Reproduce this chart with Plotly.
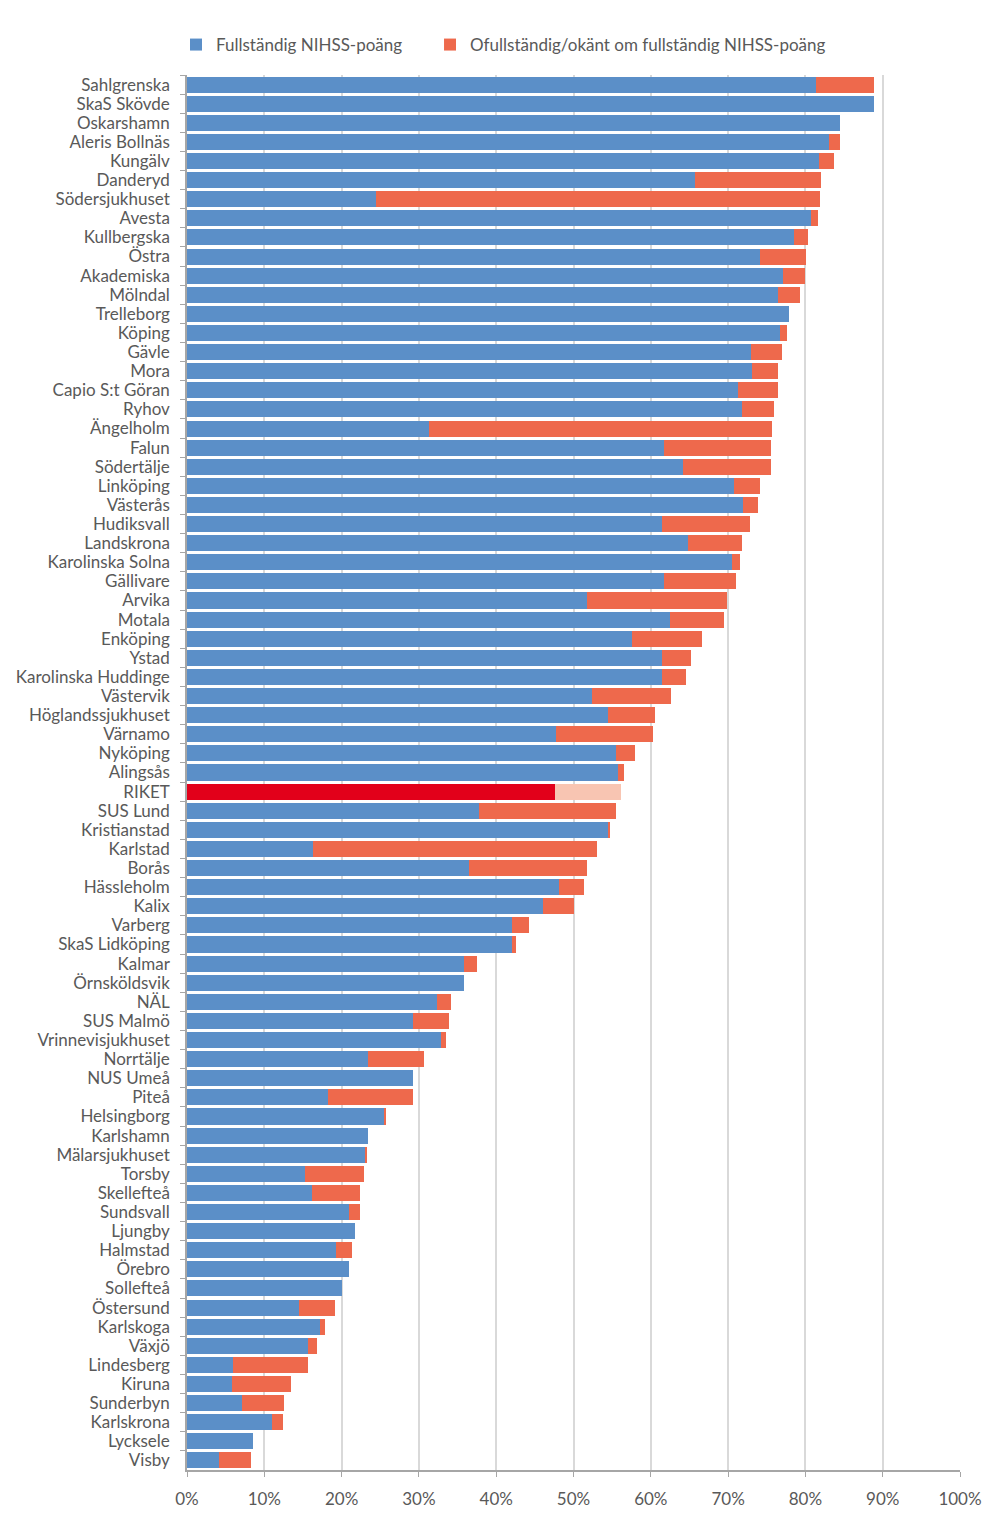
import plotly.graph_objects as go

categories = ["Sahlgrenska", "SkaS Skövde", "Oskarshamn", "Aleris Bollnäs", "Kungälv", "Danderyd",
              "Södersjukhuset", "Avesta", "Kullbergska", "Östra", "Akademiska", "Mölndal", "Trelleborg",
              "Köping", "Gävle", "Mora", "Capio S:t Göran", "Ryhov", "Ängelholm", "Falun", "Södertälje",
              "Linköping", "Västerås", "Hudiksvall", "Landskrona", "Karolinska Solna", "Gällivare",
              "Arvika", "Motala", "Enköping", "Ystad", "Karolinska Huddinge", "Västervik",
              "Höglandssjukhuset", "Värnamo", "Nyköping", "Alingsås", "RIKET", "SUS Lund",
              "Kristianstad", "Karlstad", "Borås", "Hässleholm", "Kalix", "Varberg", "SkaS Lidköping",
              "Kalmar", "Örnsköldsvik", "NÄL", "SUS Malmö", "Vrinnevisjukhuset", "Norrtälje",
              "NUS Umeå", "Piteå", "Helsingborg", "Karlshamn", "Mälarsjukhuset", "Torsby",
              "Skellefteå", "Sundsvall", "Ljungby", "Halmstad", "Örebro", "Sollefteå", "Östersund",
              "Karlskoga", "Växjö", "Lindesberg", "Kiruna", "Sunderbyn", "Karlskrona", "Lycksele",
              "Visby"]

complete = [81.4, 88.9, 84.5, 83.0, 81.7, 65.7, 24.5, 80.7, 78.5, 74.1, 77.1, 76.4, 77.9, 76.7,
            73.0, 73.1, 71.3, 71.8, 31.3, 61.7, 64.2, 70.7, 71.9, 61.5, 64.8, 70.5, 61.7, 51.8,
            62.5, 57.6, 61.5, 61.4, 52.4, 54.5, 47.7, 55.5, 55.7, 47.6, 37.8, 54.5, 16.3, 36.5,
            48.1, 46.0, 42.0, 42.0, 35.8, 35.8, 32.3, 29.3, 32.8, 23.4, 29.2, 18.2, 25.5, 23.4,
            23.0, 15.2, 16.2, 20.9, 21.7, 19.3, 21.0, 20.1, 14.5, 17.2, 15.7, 6.0, 5.8, 7.1,
            11.0, 8.5, 4.1]

incomplete = [7.5, 0.0, 0.0, 1.5, 2.0, 16.3, 57.4, 0.9, 1.8, 6.0, 2.8, 2.9, 0.0, 0.9, 4.0, 3.4,
              5.1, 4.1, 44.4, 13.8, 11.3, 3.4, 2.0, 11.3, 7.0, 1.0, 9.3, 18.1, 7.0, 9.0, 3.7, 3.2,
              10.2, 6.0, 12.6, 2.5, 0.8, 8.5, 17.7, 0.2, 36.8, 15.3, 3.3, 4.1, 2.2, 0.6, 1.7, 0.0,
              1.9, 4.6, 0.7, 7.3, 0.0, 11.0, 0.3, 0.0, 0.3, 7.7, 6.2, 1.5, 0.0, 2.0, 0.0, 0.0, 4.6,
              0.7, 1.1, 9.7, 7.7, 5.4, 1.4, 0.0, 4.2]

tick_vals = [0, 10, 20, 30, 40, 50, 60, 70, 80, 90, 100]
tick_text = ["0%", "10%", "20%", "30%", "40%", "50%", "60%", "70%", "80%", "90%", "100%"]

BLUE = "#5B8FC8"
RED = "#EE694C"
RIKET_DARK = "#E2001A"
RIKET_LIGHT = "#F8C5B2"
TXT = "#595959"
FONT = "Lato"

blue_colors = [RIKET_DARK if c == "RIKET" else BLUE for c in categories]
red_colors = [RIKET_LIGHT if c == "RIKET" else RED for c in categories]

fig = go.Figure()
fig.add_trace(go.Bar(y=categories, x=complete, orientation="h", name="Fullständig NIHSS-poäng",
                     marker=dict(color=blue_colors, line=dict(width=0)), hoverinfo="x+y",
                     legend="legend"))
fig.add_trace(go.Bar(y=categories, x=incomplete, orientation="h",
                     name="Ofullständig/okänt om fullständig NIHSS-poäng",
                     marker=dict(color=red_colors, line=dict(width=0)), hoverinfo="x+y",
                     legend="legend2"))

legend_common = dict(orientation="h", xanchor="left", y=1.0215, yanchor="middle",
                     font=dict(family=FONT, size=17, color=TXT), itemwidth=30,
                     bgcolor="rgba(0,0,0,0)")

fig.update_layout(
    barmode="stack",
    bargap=0.16,
    width=996, height=1510,
    margin=dict(l=179, r=44, t=67, b=48, autoexpand=False),
    paper_bgcolor="white", plot_bgcolor="white",
    font=dict(family=FONT, size=17, color=TXT),
    showlegend=True,
    legend=dict(x=-0.0142, **legend_common),
    legend2=dict(x=0.3144, **legend_common),
    xaxis=dict(range=[0, 100], tickvals=tick_vals, ticktext=tick_text, showgrid=True,
               gridcolor="#D9D9D9", gridwidth=1.5, zeroline=False, showline=True,
               linecolor="#A6A6A6", linewidth=1.5, ticks="outside", ticklen=5,
               tickcolor="#A6A6A6", ticklabelstandoff=8,
               tickfont=dict(family=FONT, size=17, color=TXT), fixedrange=True),
    yaxis=dict(autorange="reversed", type="category", tickmode="linear", tick0=0, dtick=1,
               showline=True, linecolor="#A6A6A6",
               linewidth=1.5, ticks="outside", ticklen=5, tickcolor="#A6A6A6",
               tickson="boundaries", ticklabelstandoff=12,
               tickfont=dict(family=FONT, size=17, color=TXT), showgrid=False,
               fixedrange=True),
)

fig.write_html("out.html")
